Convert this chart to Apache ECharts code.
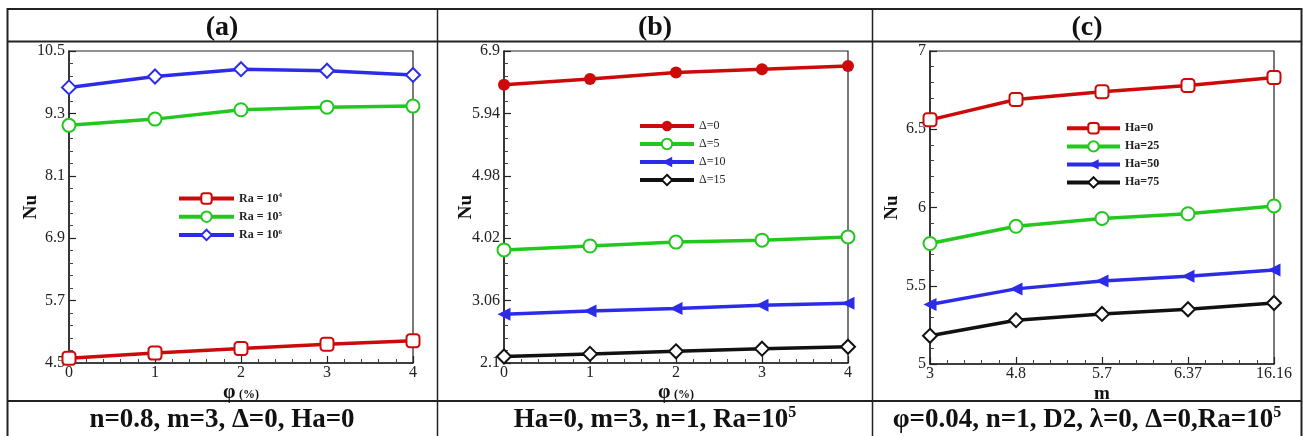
<!DOCTYPE html>
<html>
<head>
<meta charset="utf-8">
<script src="https://cdn.jsdelivr.net/npm/echarts@6/dist/echarts.min.js"></script>
<style>
  html, body { margin: 0; padding: 0; background: #fff; }
  #main { width: 1303px; height: 436px; }
</style>
</head>
<body>
<div id="main"></div>
<script>
// x values
var phi = [0, 1, 2, 3, 4];
var mIndex = [0, 1, 2, 3, 4];
var mLabels = ['3', '4.8', '5.7', '6.37', '16.16'];

// (a) Nu vs phi for Ra
var raNames = ['Ra4', 'Ra5', 'Ra6'];
var nuRa4 = [4.59, 4.69, 4.78, 4.86, 4.93];
var nuRa5 = [9.07, 9.19, 9.37, 9.42, 9.44];
var nuRa6 = [9.80, 10.01, 10.15, 10.12, 10.04];
var ticksA = [4.5, 5.7, 6.9, 8.1, 9.3, 10.5];

// (b) Nu vs phi for Delta
var deltaNames = ['Δ=0', 'Δ=5', 'Δ=10', 'Δ=15'];
var nuD0 = [6.38, 6.47, 6.57, 6.62, 6.67];
var nuD5 = [3.84, 3.90, 3.96, 3.99, 4.04];
var nuD10 = [2.85, 2.90, 2.94, 2.99, 3.02];
var nuD15 = [2.20, 2.24, 2.28, 2.32, 2.35];
var ticksB = [2.1, 3.06, 4.02, 4.98, 5.94, 6.9];

// (c) Nu vs m for Ha
var haNames = ['Ha=0', 'Ha=25', 'Ha=50', 'Ha=75'];
var nuH0 = [6.56, 6.69, 6.74, 6.78, 6.83];
var nuH25 = [5.77, 5.88, 5.93, 5.96, 6.01];
var nuH50 = [5.38, 5.48, 5.53, 5.56, 5.60];
var nuH75 = [5.18, 5.28, 5.32, 5.35, 5.39];
var ticksC = [5, 5.5, 6, 6.5, 7];

var headers = ['(a)', '(b)', '(c)'];

var RED = '#cc0a0a', GREEN = '#22c81e', BLUE = '#2c2ce8', BLACK = '#111';
var SERIF = '"Liberation Serif", "DejaVu Serif", serif';

function pairs(xs, ys) {
  return xs.map(function (x, i) { return [x, ys[i]]; });
}

function xAxisOf(idx, nameRich, fmt, gap) {
  return {
    type: 'value', gridIndex: idx, min: 0, max: 4, interval: 1,
    axisLine: { lineStyle: { color: '#222', width: 1.5 } },
    axisTick: { inside: true, length: 7, lineStyle: { color: '#222', width: 1.2 } },
    minorTick: { show: true, splitNumber: 5, length: 4, lineStyle: { color: '#444' } },
    splitLine: { show: false },
    axisLabel: { fontFamily: SERIF, fontSize: 16, color: '#222', margin: 2, formatter: fmt },
    name: nameRich.text, nameLocation: 'middle', nameGap: gap, nameMoveOverlap: false,
    nameTextStyle: { rich: nameRich.rich }
  };
}

function yAxisOf(idx, ticks) {
  return {
    type: 'value', gridIndex: idx,
    min: ticks[0], max: ticks[ticks.length - 1],
    interval: +(ticks[1] - ticks[0]).toFixed(4),
    axisLine: { show: true, lineStyle: { color: '#222', width: 1.5 } },
    axisTick: { inside: true, length: 7, lineStyle: { color: '#222', width: 1.2 } },
    minorTick: { show: true, splitNumber: 5, length: 4, lineStyle: { color: '#444' } },
    splitLine: { show: false },
    axisLabel: {
      fontFamily: SERIF, fontSize: 16, color: '#222', margin: 4,
      formatter: function (v) { return String(+v.toFixed(2)); }
    },
    name: 'Nu', nameLocation: 'middle', nameGap: 28, nameMoveOverlap: false,
    nameTextStyle: { fontFamily: SERIF, fontSize: 19, fontWeight: 'bold', color: '#111' }
  };
}

function line(name, idx, xs, ys, color, symbol, opts) {
  opts = opts || {};
  return {
    name: name, type: 'line', xAxisIndex: idx, yAxisIndex: idx,
    data: pairs(xs, ys),
    symbol: symbol, symbolSize: opts.size || 13, symbolRotate: opts.rotate || 0,
    showAllSymbol: true,
    lineStyle: { color: color, width: 3.5 },
    itemStyle: { color: color, borderColor: color, borderWidth: opts.bw == null ? 3 : opts.bw },
    emphasis: { disabled: true },
    z: 3
  };
}

var phiName = {
  text: '{p|φ} {u|(%)}',
  rich: {
    p: { fontFamily: SERIF, fontSize: 20, fontWeight: 'bold', color: '#111' },
    u: { fontFamily: SERIF, fontSize: 12, fontWeight: 'bold', color: '#111', padding: [4, 0, 0, 0] }
  }
};
var mName = {
  text: '{m|m}',
  rich: { m: { fontFamily: SERIF, fontSize: 19, fontWeight: 'bold', color: '#111' } }
};

var raLabel = { Ra4: '4', Ra5: '5', Ra6: '6' };

var legendText = { fontFamily: SERIF, fontSize: 12, fontWeight: 'bold', color: '#222' };

var option = {
  backgroundColor: '#fff',
  animation: false,
  grid: [
    { left: 69, top: 51, width: 344, height: 312, show: true, borderColor: '#222', borderWidth: 1.2, backgroundColor: 'transparent' },
    { left: 504, top: 51, width: 344, height: 312, show: true, borderColor: '#222', borderWidth: 1.2, backgroundColor: 'transparent' },
    { left: 930, top: 51, width: 344, height: 313, show: true, borderColor: '#222', borderWidth: 1.2, backgroundColor: 'transparent' }
  ],
  xAxis: [
    xAxisOf(0, phiName, function (v) { return String(v); }, 20),
    xAxisOf(1, phiName, function (v) { return String(v); }, 20),
    xAxisOf(2, mName, function (v) { return mLabels[v]; }, 21)
  ],
  yAxis: [yAxisOf(0, ticksA), yAxisOf(1, ticksB), yAxisOf(2, ticksC)],
  legend: [
    {
      data: raNames, orient: 'vertical', left: 172, top: 187,
      itemWidth: 55, itemHeight: 13, itemGap: 5.5, selectedMode: false,
      lineStyle: { width: 4 },
      formatter: function (n) { return '{t|Ra = 10}{s|' + raLabel[n] + '}'; },
      textStyle: {
        rich: {
          t: legendText,
          s: { fontFamily: SERIF, fontSize: 7, fontWeight: 'bold', color: '#222', verticalAlign: 'top', padding: [0, 0, 6, 0] }
        }
      }
    },
    {
      data: deltaNames, orient: 'vertical', left: 633, top: 115,
      itemWidth: 54, itemHeight: 13, itemGap: 5.8, selectedMode: false,
      lineStyle: { width: 4 },
      textStyle: { fontFamily: SERIF, fontSize: 12, color: '#222' }
    },
    {
      data: haNames, orient: 'vertical', left: 1060, top: 117,
      itemWidth: 53, itemHeight: 13, itemGap: 5.8, selectedMode: false,
      lineStyle: { width: 4 },
      textStyle: legendText
    }
  ],
  series: [
    line('Ra4', 0, phi, nuRa4, RED, 'emptyRoundRect', { bw: 4 }),
    line('Ra5', 0, phi, nuRa5, GREEN, 'emptyCircle'),
    line('Ra6', 0, phi, nuRa6, BLUE, 'emptyDiamond', { size: 14 }),

    line('Δ=0', 1, phi, nuD0, RED, 'circle', { bw: 0, size: 12 }),
    line('Δ=5', 1, phi, nuD5, GREEN, 'emptyCircle'),
    line('Δ=10', 1, phi, nuD10, BLUE, 'triangle', { rotate: 90, bw: 0 }),
    line('Δ=15', 1, phi, nuD15, BLACK, 'emptyDiamond', { size: 14 }),

    line('Ha=0', 2, mIndex, nuH0, RED, 'emptyRoundRect'),
    line('Ha=25', 2, mIndex, nuH25, GREEN, 'emptyCircle'),
    line('Ha=50', 2, mIndex, nuH50, BLUE, 'triangle', { rotate: 90, bw: 0 }),
    line('Ha=75', 2, mIndex, nuH75, BLACK, 'emptyDiamond', { size: 14 })
  ],
  graphic: [
    // table frame
    { type: 'rect', shape: { x: 7.5, y: 9, width: 1294, height: 440 }, style: { fill: 'none', stroke: '#222', lineWidth: 2 }, silent: true },
    { type: 'line', shape: { x1: 7, y1: 41.5, x2: 1302, y2: 41.5 }, style: { stroke: '#222', lineWidth: 2 }, silent: true },
    { type: 'line', shape: { x1: 7, y1: 401, x2: 1302, y2: 401 }, style: { stroke: '#222', lineWidth: 2 }, silent: true },
    { type: 'line', shape: { x1: 437.5, y1: 9, x2: 437.5, y2: 440 }, style: { stroke: '#222', lineWidth: 1.5 }, silent: true },
    { type: 'line', shape: { x1: 872.5, y1: 9, x2: 872.5, y2: 440 }, style: { stroke: '#222', lineWidth: 1.5 }, silent: true },
    // headers
    { type: 'text', x: 222, y: 28, style: { text: headers[0], font: 'bold 28px ' + SERIF, fill: '#111', align: 'center', verticalAlign: 'middle' }, silent: true },
    { type: 'text', x: 655, y: 28, style: { text: headers[1], font: 'bold 28px ' + SERIF, fill: '#111', align: 'center', verticalAlign: 'middle' }, silent: true },
    { type: 'text', x: 1087, y: 28, style: { text: headers[2], font: 'bold 28px ' + SERIF, fill: '#111', align: 'center', verticalAlign: 'middle' }, silent: true },
    // footers
    { type: 'text', x: 222, y: 420, style: { text: 'n=0.8, m=3, Δ=0, Ha=0', font: 'bold 27px ' + SERIF, fill: '#111', align: 'center', verticalAlign: 'middle' }, silent: true },
    {
      type: 'text', x: 655, y: 420, silent: true,
      style: {
        text: '{t|Ha=0, m=3, n=1, Ra=10}{s|5}', align: 'center', verticalAlign: 'middle',
        rich: {
          t: { font: 'bold 27px ' + SERIF, fill: '#111', lineHeight: 30 },
          s: { font: 'bold 16px ' + SERIF, fill: '#111', verticalAlign: 'top', lineHeight: 30, padding: [0, 0, 12, 0] }
        }
      }
    },
    {
      type: 'text', x: 1087, y: 420, silent: true,
      style: {
        text: '{t|φ=0.04, n=1, D2, λ=0, Δ=0,Ra=10}{s|5}', align: 'center', verticalAlign: 'middle',
        rich: {
          t: { font: 'bold 27px ' + SERIF, fill: '#111', lineHeight: 30 },
          s: { font: 'bold 16px ' + SERIF, fill: '#111', verticalAlign: 'top', lineHeight: 30, padding: [0, 0, 12, 0] }
        }
      }
    }
  ]
};

var myChart = echarts.init(document.getElementById('main'));
myChart.setOption(option);
</script>
</body>
</html>
